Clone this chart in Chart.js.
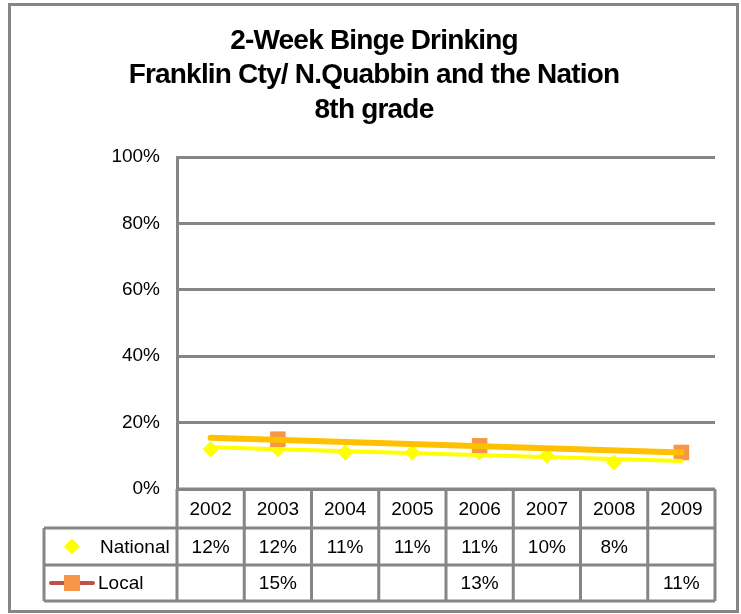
<!DOCTYPE html>
<html>
<head>
<meta charset="utf-8">
<title>2-Week Binge Drinking</title>
<script src="https://cdn.jsdelivr.net/npm/chart.js@4.4.1/dist/chart.umd.min.js"></script>
<style>
  html, body { margin: 0; padding: 0; background: #fff; }
  #wrap { width: 741px; height: 614px; }
</style>
</head>
<body>
<div id="wrap"><canvas id="chart" width="741" height="614"></canvas></div>
<script>
// data
const years = ['2002', '2003', '2004', '2005', '2006', '2007', '2008', '2009'];
const nationalValues = [12, 12, 11, 11, 11, 10, 8, null];
const localValues = [null, 15, null, null, 13, null, null, 11];
// trendline end points (2002 and 2009)
const nationalTrend = [12.6, null, null, null, null, null, null, 8.4];
const localTrend = [15.4, null, null, null, null, null, null, 11.0];
const yTicks = [0, 20, 40, 60, 80, 100];
const titleLines = ['2-Week Binge Drinking', 'Franklin Cty/ N.Quabbin and the Nation', '8th grade'];

const gridColor = '#868686';
const fontFamily = '"Liberation Sans", Arial, sans-serif';

// title, outer frame and the data table underneath
const tablePlugin = {
    id: 'tablePlugin',
    afterDraw(chart) {
        const ctx = chart.ctx;
        const area = chart.chartArea;
        const xs = chart.scales.x;
        const colW = (area.right - area.left) / years.length;
        const tableLeft = 44;
        const rows = [area.bottom, area.bottom + 39, area.bottom + 76, area.bottom + 112];

        ctx.save();

        // outer frame
        ctx.strokeStyle = gridColor;
        ctx.lineWidth = 3;
        ctx.strokeRect(9.5, 4.5, 728, 607);

        // title
        ctx.fillStyle = '#000';
        ctx.font = 'bold 28px ' + fontFamily;
        ctx.letterSpacing = '-0.8px';
        ctx.textAlign = 'center';
        ctx.textBaseline = 'middle';
        titleLines.forEach((t, i) => ctx.fillText(t, 374, 41 + i * 34.5));
        ctx.letterSpacing = '0px';

        // table grid
        ctx.strokeStyle = gridColor;
        ctx.lineWidth = 3;
        ctx.beginPath();
        ctx.moveTo(area.left, rows[0]); ctx.lineTo(area.right, rows[0]);
        for (let r = 1; r < rows.length; r++) {
            ctx.moveTo(tableLeft, rows[r]); ctx.lineTo(area.right, rows[r]);
        }
        for (let c = 0; c <= years.length; c++) {
            const x = area.left + c * colW;
            ctx.moveTo(x, rows[0]); ctx.lineTo(x, rows[3]);
        }
        ctx.moveTo(tableLeft, rows[1]); ctx.lineTo(tableLeft, rows[3]);
        ctx.stroke();

        // cell texts
        ctx.font = '19px ' + fontFamily;
        ctx.fillStyle = '#000';
        ctx.textAlign = 'center';
        const mid = r => (rows[r] + rows[r + 1]) / 2 + 1;
        years.forEach((y, i) => {
            const cx = xs.getPixelForValue(i);
            ctx.fillText(y, cx, mid(0));
            if (nationalValues[i] !== null) ctx.fillText(nationalValues[i] + '%', cx, mid(1));
            if (localValues[i] !== null) ctx.fillText(localValues[i] + '%', cx, mid(2));
        });

        // legend keys
        const kx = 72;
        let ky = mid(1) - 1;
        ctx.fillStyle = '#FFFF00';
        ctx.beginPath();
        ctx.moveTo(kx, ky - 8); ctx.lineTo(kx + 8, ky); ctx.lineTo(kx, ky + 8); ctx.lineTo(kx - 8, ky);
        ctx.closePath();
        ctx.fill();

        ky = mid(2) - 1;
        ctx.strokeStyle = '#C0504D';
        ctx.lineWidth = 4;
        ctx.lineCap = 'round';
        ctx.beginPath();
        ctx.moveTo(51, ky); ctx.lineTo(93, ky);
        ctx.stroke();
        ctx.fillStyle = '#F79646';
        ctx.fillRect(kx - 8, ky - 8, 16, 16);

        ctx.fillStyle = '#000';
        ctx.textAlign = 'left';
        ctx.fillText('National', 100, mid(1));
        ctx.fillText('Local', 98, mid(2));

        ctx.restore();
    }
};

const ctx = document.getElementById('chart').getContext('2d');

const chart = new Chart(ctx, {
    type: 'line',
    data: {
        labels: years,
        datasets: [{
            label: 'Local trend',
            data: localTrend,
            borderColor: '#FFC000',
            borderWidth: 6,
            borderCapStyle: 'round',
            pointRadius: 0,
            spanGaps: true
        }, {
            label: 'National trend',
            data: nationalTrend,
            borderColor: '#FFFF00',
            borderWidth: 4,
            borderCapStyle: 'round',
            pointRadius: 0,
            spanGaps: true
        }, {
            label: 'Local',
            data: localValues,
            showLine: false,
            borderColor: '#C0504D',
            pointStyle: 'rect',
            pointRadius: 11,
            pointBackgroundColor: '#F79646',
            pointBorderColor: '#F79646',
            pointBorderWidth: 0
        }, {
            label: 'National',
            data: nationalValues,
            showLine: false,
            pointStyle: 'rectRot',
            pointRadius: 8,
            pointBackgroundColor: '#FFFF00',
            pointBorderColor: '#FFFF00',
            pointBorderWidth: 0
        }]
    },
    options: {
        responsive: false,
        animation: false,
        layout: {
            padding: { top: 157, left: 0, right: 26, bottom: 125 }
        },
        scales: {
            x: {
                display: false,
                offset: true
            },
            y: {
                min: 0,
                max: 100,
                afterFit: s => { s.width = 177; },
                afterBuildTicks: s => { s.ticks = yTicks.map(v => ({ value: v })); },
                ticks: {
                    padding: 17,
                    color: '#000',
                    font: { family: fontFamily, size: 19 },
                    callback: v => v + '%'
                },
                grid: {
                    color: gridColor,
                    lineWidth: 3,
                    drawTicks: false
                },
                border: {
                    color: gridColor,
                    width: 3
                }
            }
        },
        plugins: {
            legend: { display: false },
            title: { display: false },
            tooltip: { enabled: false }
        }
    },
    plugins: [tablePlugin]
});
</script>
</body>
</html>
